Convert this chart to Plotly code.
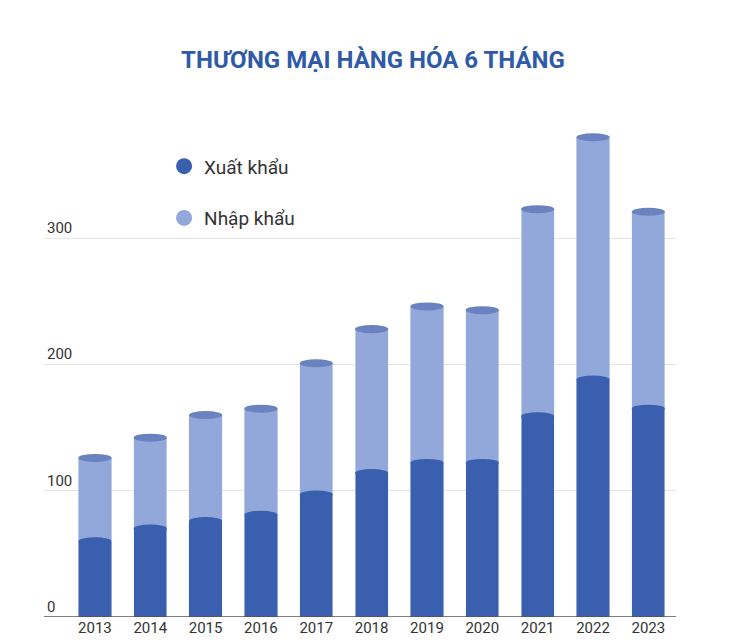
import plotly.graph_objects as go

years = ["2013","2014","2015","2016","2017","2018","2019","2020","2021","2022","2023"]
export = [60, 70, 76, 81, 97, 114, 122, 122, 159, 188, 165]
total = [126, 142, 160, 165, 201, 228, 246, 243, 323, 380, 321]
imports = [t - e for t, e in zip(total, export)]

C_EXP = "#3a5fae"
C_IMP = "#93a8da"
C_TOP = "#6a82bf"

fig = go.Figure()
fig.add_bar(x=list(range(len(years))), y=export, marker_color=C_EXP, width=0.6, showlegend=False)
fig.add_bar(x=list(range(len(years))), y=imports, marker_color=C_IMP, width=0.6, showlegend=False)
fig.add_scatter(x=[None], y=[None], mode="markers", name="Xuất khẩu", legendgroup="a",
                marker=dict(symbol="circle", size=22, color=C_EXP))
fig.add_scatter(x=[None], y=[None], mode="markers", name="Nhập khẩu", legendgroup="b",
                marker=dict(symbol="circle", size=22, color=C_IMP))

shapes = []
h = 3.2
for i, (e, t) in enumerate(zip(export, total)):
    shapes.append(dict(type="circle", xref="x", yref="y", x0=i-0.3, x1=i+0.3, y0=e-h, y1=e+h,
                       fillcolor=C_EXP, line_width=0, layer="above"))
    shapes.append(dict(type="circle", xref="x", yref="y", x0=i-0.3, x1=i+0.3, y0=t-h, y1=t+h,
                       fillcolor=C_TOP, line_width=0, layer="above"))
shapes.append(dict(type="line", xref="paper", yref="y", x0=0, x1=1, y0=0, y1=0,
                   line=dict(color="#555", width=1.5)))

fig.update_layout(
    width=730, height=643, barmode="stack",
    plot_bgcolor="white", paper_bgcolor="white",
    margin=dict(l=36, r=62, t=104, b=34),
    title=dict(text="<b>THƯƠNG MẠI HÀNG HÓA 6 THÁNG</b>", x=0.5, xanchor="center",
               y=0.92, yanchor="middle",
               font=dict(family="Roboto", size=24, color="#2f5aa8")),
    font=dict(family="Roboto", color="#333"),
    legend=dict(x=0.19, y=0.93, xanchor="left", yanchor="top", bgcolor="rgba(0,0,0,0)",
                traceorder="grouped", font=dict(size=19, color="#333"),
                itemsizing="trace", tracegroupgap=24),
    shapes=shapes,
    xaxis=dict(tickmode="array", tickvals=list(range(len(years))), ticktext=years,
               range=[-0.92, 10.5], showgrid=False, tickfont=dict(size=15, color="#333")),
    yaxis=dict(range=[0, 400], tickvals=[0, 100, 200, 300, 400],
               ticktext=["0", "100", "200", "300", "400  tỷ USD"],
               showgrid=True, gridcolor="#e4e4e4", zeroline=False,
               tickfont=dict(size=15, color="#333"), ticklabelposition="inside top"),
)
fig.write_html("out.html")
